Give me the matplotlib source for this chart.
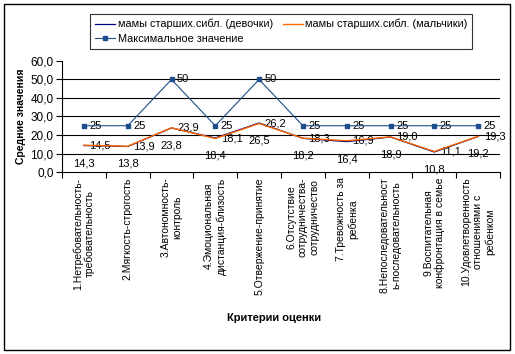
import matplotlib
matplotlib.use("Agg")
import matplotlib.pyplot as plt
from matplotlib.patches import Rectangle

plt.rcParams['font.family'] = ['Liberation Sans', 'DejaVu Sans']

categories = [
    "1.Нетребовательность-\nтребовательность",
    "2.Мягкость-строгость",
    "3.Автономность-\nконтроль",
    "4.Эмоциональная\nдистанция-близость",
    "5.Отвержение-принятие",
    "6.Отсутствие\nсотрудничества-\nсотрудничество",
    "7.Тревожность за\nребенка",
    "8.Непоследовательност\nь-последовательность",
    "9.Воспитательная\nконфронтация в семье",
    "10.Удовлетворенность\nотношениями с\nребенком",
]
girls = [14.3, 13.8, 23.8, 18.4, 26.5, 18.2, 16.4, 18.9, 10.8, 19.2]
boys = [14.5, 13.9, 23.9, 18.1, 26.2, 18.3, 16.9, 19.0, 11.1, 19.3]
max_vals = [25, 25, 50, 25, 50, 25, 25, 25, 25, 25]
yticks = [0, 10, 20, 30, 40, 50, 60]

label_girls = "мамы старших.сибл. (девочки)"
label_boys = "мамы старших.сибл. (мальчики)"
label_max = "Максимальное значение"

fig = plt.figure(figsize=(5.15, 3.54), dpi=100)
ax = fig.add_axes([62/515, 1-172/354, (500-62)/515, (172-61)/354])

x = list(range(len(categories)))
fs = 7.5

for yv in yticks[1:-1]:
    ax.axhline(yv, color='black', lw=0.8, zorder=1)

l_girls, = ax.plot(x, girls, color='#000080', lw=0.9, zorder=3)
l_boys, = ax.plot(x, boys, color='#FF6600', lw=1.0, zorder=4)
l_max, = ax.plot(x, max_vals, color='#1F4E8C', lw=0.8, marker='s',
                 markersize=3.2, zorder=5)

def fmt(v):
    return f"{v:.1f}".replace('.', ',')

for xi, v in zip(x, girls):
    ax.annotate(fmt(v), (xi, v), xytext=(0, -9), textcoords='offset points',
                ha='center', va='top', fontsize=8)
for xi, v in zip(x, boys):
    ax.annotate(fmt(v), (xi, v), xytext=(4, 0), textcoords='offset points',
                ha='left', va='center', fontsize=8)
for xi, v in zip(x, max_vals):
    ax.annotate(str(v), (xi, v), xytext=(4, 0), textcoords='offset points',
                ha='left', va='center', fontsize=8)

ax.set_xlim(-0.5, len(categories) - 0.5)
ax.set_ylim(0, 60)
ax.set_yticks(yticks)
ax.set_yticklabels([fmt(v) for v in yticks], fontsize=8.5)

ax.set_xticks([i - 0.5 for i in range(len(categories) + 1)])
ax.set_xticklabels([])
ax.set_xticks(x, minor=True)
ax.set_xticklabels(categories, minor=True, rotation=90, fontsize=fs,
                   va='top', ha='center', multialignment='center')
ax.tick_params(axis='x', which='minor', length=0, pad=4)
ax.tick_params(axis='x', which='major', length=4, direction='out', width=0.8)
ax.tick_params(axis='y', length=4, direction='out', width=0.8, pad=2)

for side in ['top', 'right']:
    ax.spines[side].set_visible(False)
ax.spines['left'].set_linewidth(0.8)
ax.spines['bottom'].set_linewidth(0.8)

ax.set_ylabel("Средние значения", fontsize=fs, fontweight='bold', labelpad=3)
fig.text(274/515, 1-318/354, "Критерии оценки", fontsize=8,
         fontweight='bold', ha='center', va='center')

leg = fig.legend([l_girls, l_max, l_boys], [label_girls, label_max, label_boys],
                 ncol=2, loc='upper left', bbox_to_anchor=(90/515, 1-14/354),
                 fontsize=7.8, frameon=True, fancybox=False, edgecolor='black',
                 handlelength=1.85, handletextpad=0.25, columnspacing=0.9,
                 borderpad=0.45, labelspacing=0.45, borderaxespad=0)
leg.get_frame().set_linewidth(0.8)

fig.patches.append(Rectangle((4/515, 1-350/354), 506/515, 346/354,
                             transform=fig.transFigure, fill=False,
                             edgecolor='black', lw=1.0))

fig.savefig("out.png", dpi=100)
